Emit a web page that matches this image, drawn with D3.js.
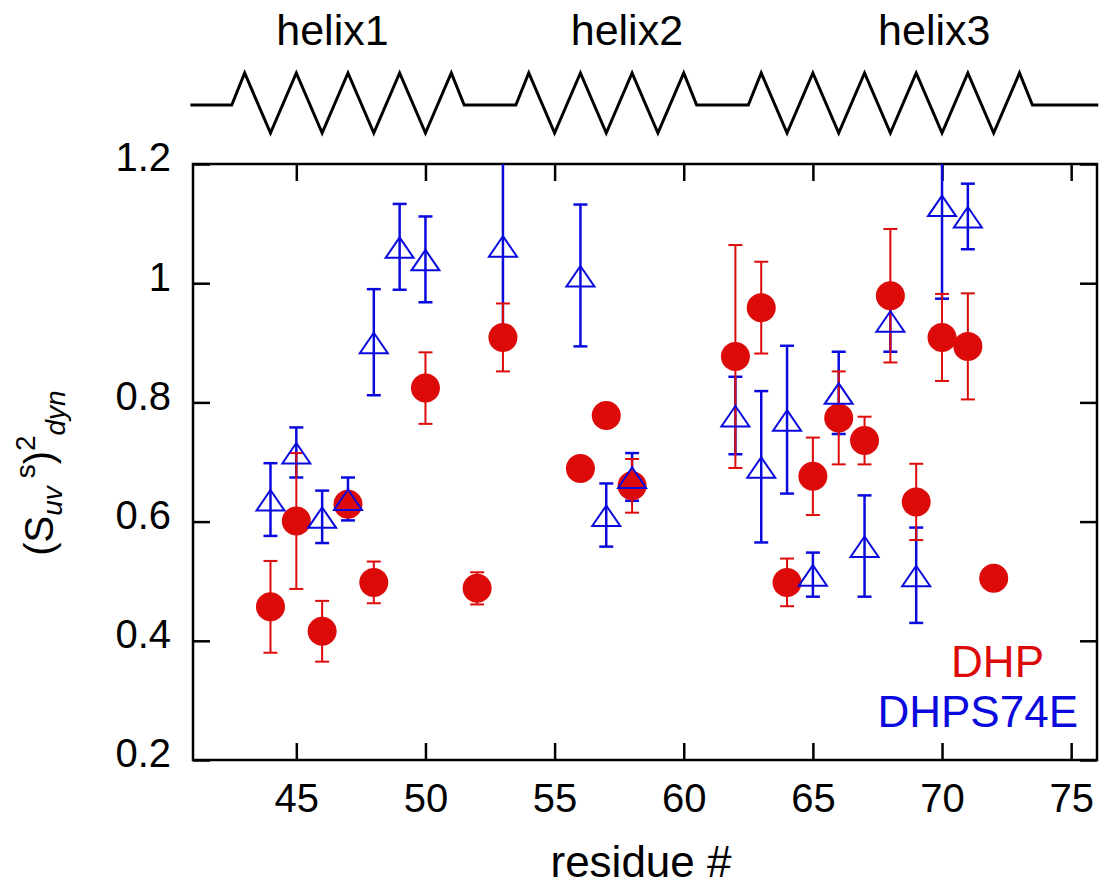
<!DOCTYPE html>
<html>
<head>
<meta charset="utf-8">
<script src="https://cdn.jsdelivr.net/npm/d3@7"></script>
<style>
  body { margin: 0; background: #fff; }
  text { font-family: "Liberation Sans", Arial, Helvetica, sans-serif; }
</style>
</head>
<body>
<div id="vis"></div>
<script>

////////////////////////////////////////
////////////// Data ////////////////////
////////////////////////////////////////

// DHP (red circles)
const dhpResidue = [44, 45, 46, 47, 48, 50, 52, 53, 56, 57, 58, 62, 63, 64, 65, 66, 67, 68, 69, 70, 71, 72]
const dhpValue = [0.457, 0.601, 0.416, 0.629, 0.498, 0.824, 0.488, 0.909, 0.689, 0.778, 0.660,
    0.877, 0.959, 0.498, 0.676, 0.774, 0.736, 0.979, 0.633, 0.909, 0.894, 0.505]
const dhpError = [0.077, 0.114, 0.051, 0.020, 0.035, 0.060, 0.027, 0.057, 0.010, 0.015, 0.045,
    0.187, 0.077, 0.040, 0.065, 0.078, 0.040, 0.112, 0.064, 0.073, 0.089, 0.005]

// DHPS74E (blue open triangles)
const s74eResidue = [44, 45, 46, 47, 48, 49, 50, 53, 56, 57, 58, 62, 63, 64, 65, 66, 67, 68, 69, 70, 71]
const s74eValue = [0.637, 0.716, 0.608, 0.638, 0.901, 1.061, 1.040, 1.063, 1.013, 0.611, 0.675,
    0.778, 0.692, 0.771, 0.511, 0.816, 0.559, 0.937, 0.510, 1.131, 1.112]
const s74eError = [0.061, 0.042, 0.044, 0.036, 0.089, 0.072, 0.072, 0.150, 0.119, 0.053, 0.040,
    0.065, 0.127, 0.124, 0.037, 0.069, 0.085, 0.052, 0.080, 0.157, 0.055]

// secondary structure on top
const helixNames = ['helix1', 'helix2', 'helix3']
const helixStart = [42.5, 53.5, 62.5]
const helixEnd = [51.5, 60.5, 73.5]
const helixLabelAt = [46.4, 57.8, 69.7]

const xTicks = [45, 50, 55, 60, 65, 70, 75]
const yTicks = [0.2, 0.4, 0.6, 0.8, 1.0, 1.2]

////////////////////////////////////////
////////////// SVG Setup ///////////////
////////////////////////////////////////

const W = 1108, H = 888
const margin = { top: 164, right: 11, bottom: 128, left: 193 }
const width = W - margin.left - margin.right
const height = H - margin.top - margin.bottom

const red = '#dd0a0a'
const blue = '#0a0ade'

const svg = d3.select('#vis').append('svg')
    .attr('width', W)
    .attr('height', H)

const g = svg.append('g')
    .attr('transform', `translate(${margin.left}, ${margin.top})`)

////////////////////////////////////////
////////////// Scales //////////////////
////////////////////////////////////////

const xScale = d3.scaleLinear().domain([41, 76]).range([0, width])
const yScale = d3.scaleLinear().domain([0.2, 1.2]).range([height, 0])

g.append('clipPath').attr('id', 'plotclip')
    .append('rect').attr('width', width).attr('height', height)

////////////////////////////////////////
////////////// Axes ////////////////////
////////////////////////////////////////

const tickLen = 17
const yFmt = d => d === 1 ? '1' : d3.format('.1f')(d)

function styleAxis(sel) {
    sel.select('.domain').remove()
    sel.selectAll('.tick line').attr('stroke', '#000').attr('stroke-width', 2.5)
}

g.append('g').attr('transform', `translate(0, ${height})`)
    .call(d3.axisBottom(xScale).tickValues(xTicks).tickSize(-tickLen).tickPadding(24))
    .call(styleAxis)
    .call(s => s.selectAll('text').attr('font-size', 40).attr('fill', '#000'))

g.append('g')
    .call(d3.axisTop(xScale).tickValues(xTicks).tickSize(-tickLen).tickFormat(''))
    .call(styleAxis)

g.append('g')
    .call(d3.axisLeft(yScale).tickValues(yTicks).tickSize(-tickLen).tickPadding(22).tickFormat(yFmt))
    .call(styleAxis)
    .call(s => s.selectAll('text').attr('font-size', 40).attr('fill', '#000').attr('dy', '0.17em'))

g.append('g').attr('transform', `translate(${width}, 0)`)
    .call(d3.axisRight(yScale).tickValues(yTicks).tickSize(-tickLen).tickFormat(''))
    .call(styleAxis)

g.append('rect')
    .attr('width', width).attr('height', height)
    .attr('fill', 'none').attr('stroke', '#000').attr('stroke-width', 2.5)

// axis titles
svg.append('text')
    .attr('x', margin.left + width / 2 - 4)
    .attr('y', 877)
    .attr('text-anchor', 'middle')
    .attr('font-size', 44)
    .text('residue #')

const ylab = svg.append('text')
    .attr('transform', 'translate(53, 473) rotate(-90)')
    .attr('text-anchor', 'middle')
    .attr('font-size', 40)
ylab.append('tspan').text('(S')
ylab.append('tspan').attr('font-size', 28).attr('font-style', 'italic').attr('dy', 9).text('uv')
ylab.append('tspan').attr('font-size', 28).attr('dy', -27).text(' s')
ylab.append('tspan').attr('dy', 18).text(')')
ylab.append('tspan').attr('font-size', 28).attr('dy', -18).text('2')
ylab.append('tspan').attr('font-size', 28).attr('font-style', 'italic').attr('dy', 30).text('dyn')

////////////////////////////////////////
////////////// Data marks //////////////
////////////////////////////////////////

const dhp = dhpResidue.map((r, i) => ({ x: r, y: dhpValue[i], e: dhpError[i] }))
const s74e = s74eResidue.map((r, i) => ({ x: r, y: s74eValue[i], e: s74eError[i] }))

const marks = g.append('g').attr('clip-path', 'url(#plotclip)')

function errorBars(data, colour, sw) {
    const eb = marks.append('g').attr('stroke', colour).attr('stroke-width', sw)
    eb.selectAll('.bar').data(data).join('line')
        .attr('x1', d => xScale(d.x)).attr('x2', d => xScale(d.x))
        .attr('y1', d => yScale(d.y - d.e)).attr('y2', d => yScale(d.y + d.e))
    eb.selectAll('.caplo').data(data).join('line')
        .attr('x1', d => xScale(d.x) - 7).attr('x2', d => xScale(d.x) + 7)
        .attr('y1', d => yScale(d.y - d.e)).attr('y2', d => yScale(d.y - d.e))
    eb.selectAll('.caphi').data(data.filter(d => d.y + d.e <= 1.2)).join('line')
        .attr('x1', d => xScale(d.x) - 7).attr('x2', d => xScale(d.x) + 7)
        .attr('y1', d => yScale(d.y + d.e)).attr('y2', d => yScale(d.y + d.e))
}

errorBars(s74e, blue, 2.5)
errorBars(dhp, red, 2)

marks.selectAll('.dhp').data(dhp).join('circle')
    .attr('cx', d => xScale(d.x))
    .attr('cy', d => yScale(d.y))
    .attr('r', 14.5)
    .attr('fill', red)

marks.selectAll('.s74e').data(s74e).join('path')
    .attr('d', d => {
        const cx = xScale(d.x), cy = yScale(d.y)
        return `M${cx},${cy - 9.5} L${cx + 14},${cy + 11} L${cx - 14},${cy + 11} Z`
    })
    .attr('fill', 'none')
    .attr('stroke', blue)
    .attr('stroke-width', 2)

////////////////////////////////////////
////////////// Legend //////////////////
////////////////////////////////////////

svg.append('text')
    .attr('x', 1044).attr('y', 677)
    .attr('text-anchor', 'end').attr('font-size', 44)
    .attr('fill', red).text('DHP')

svg.append('text')
    .attr('x', 1078).attr('y', 727)
    .attr('text-anchor', 'end').attr('font-size', 44)
    .attr('fill', blue).text('DHPS74E')

////////////////////////////////////////
////////////// Helix strip /////////////
////////////////////////////////////////

// -1 = trough, 0 = coil baseline, 1 = peak
const zy = d3.scaleLinear().domain([-1, 0, 1]).range([133, 105, 73])

const pts = [[40.9, 0]]
helixStart.forEach((s, i) => {
    pts.push([s, 0])
    let up = true
    for (let r = s + 0.5; r <= helixEnd[i] - 0.5; r += 1) {
        pts.push([r, up ? 1 : -1])
        up = !up
    }
    pts.push([helixEnd[i], 0])
})
pts.push([76.05, 0])

const helixG = svg.append('g').attr('transform', `translate(${margin.left}, 0)`)

helixG.append('path')
    .attr('d', d3.line().x(d => xScale(d[0])).y(d => zy(d[1]))(pts))
    .attr('fill', 'none')
    .attr('stroke', '#000')
    .attr('stroke-width', 3)
    .attr('stroke-linejoin', 'miter')

helixG.selectAll('.hlabel').data(helixNames).join('text')
    .attr('x', (d, i) => xScale(helixLabelAt[i]))
    .attr('y', 45)
    .attr('text-anchor', 'middle')
    .attr('font-size', 43)
    .text(d => d)

</script>
</body>
</html>
